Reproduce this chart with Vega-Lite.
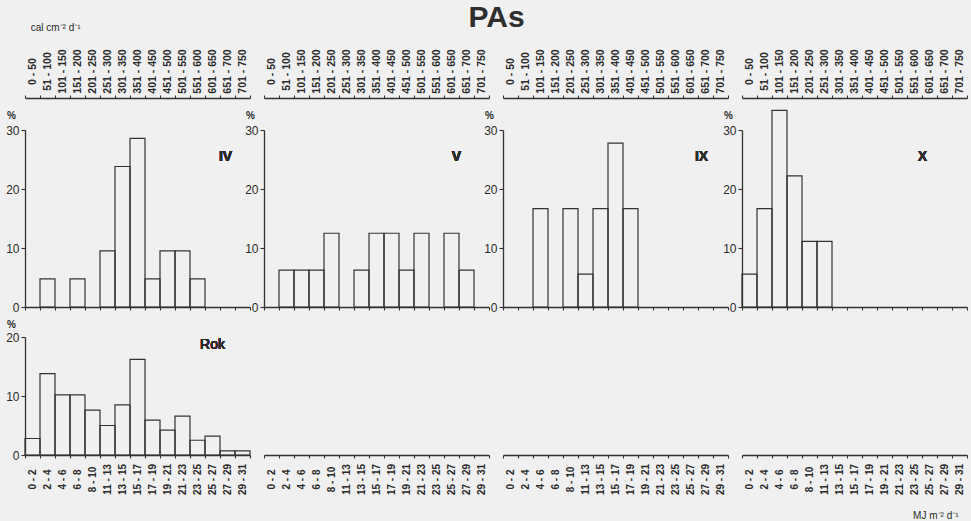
{
 "$schema": "https://vega.github.io/schema/vega-lite/v6.json",
 "background": "#f0f0f0",
 "padding": {"left": 5, "right": 4, "top": 2, "bottom": 6},
 "title": {"text": "PAs", "fontSize": 30, "font": "Liberation Sans", "fontWeight": "bold", "color": "#2e2e2e", "anchor": "middle", "offset": -10, "dx": 10},
 "config": {
  "view": {"stroke": null},
  "axis": {"grid": false, "labelFont": "Liberation Sans", "labelColor": "#2b2b2b", "domainColor": "#333333", "tickColor": "#333333", "domainWidth": 1.3, "tickWidth": 1.1, "titleFont": "Liberation Sans", "titleColor": "#2b2b2b"},
  "title": {"font": "Liberation Sans", "color": "#2b2b2b"},
  "text": {"font": "Liberation Sans", "color": "#2b2b2b"}
 },
 "datasets": {
  "iv": [
   {"bin": "51 - 100", "pct": 4.76}, {"bin": "151 - 200", "pct": 4.76}, {"bin": "251 - 300", "pct": 9.52},
   {"bin": "301 - 350", "pct": 23.81}, {"bin": "351 - 400", "pct": 28.57}, {"bin": "401 - 450", "pct": 4.76},
   {"bin": "451 - 500", "pct": 9.52}, {"bin": "501 - 550", "pct": 9.52}, {"bin": "551 - 600", "pct": 4.76}
  ],
  "v": [
   {"bin": "51 - 100", "pct": 6.25}, {"bin": "101 - 150", "pct": 6.25}, {"bin": "151 - 200", "pct": 6.25},
   {"bin": "201 - 250", "pct": 12.5}, {"bin": "301 - 350", "pct": 6.25}, {"bin": "351 - 400", "pct": 12.5},
   {"bin": "401 - 450", "pct": 12.5}, {"bin": "451 - 500", "pct": 6.25}, {"bin": "501 - 550", "pct": 12.5},
   {"bin": "601 - 650", "pct": 12.5}, {"bin": "651 - 700", "pct": 6.25}
  ],
  "ix": [
   {"bin": "101 - 150", "pct": 16.67}, {"bin": "201 - 250", "pct": 16.67}, {"bin": "251 - 300", "pct": 5.56},
   {"bin": "301 - 350", "pct": 16.67}, {"bin": "351 - 400", "pct": 27.78}, {"bin": "401 - 450", "pct": 16.67}
  ],
  "x": [
   {"bin": "0 - 50", "pct": 5.56}, {"bin": "51 - 100", "pct": 16.67}, {"bin": "101 - 150", "pct": 33.33},
   {"bin": "151 - 200", "pct": 22.22}, {"bin": "201 - 250", "pct": 11.11}, {"bin": "251 - 300", "pct": 11.11}
  ],
  "rok": [
   {"bin": "0 - 2", "pct": 2.8}, {"bin": "2 - 4", "pct": 13.8}, {"bin": "4 - 6", "pct": 10.2},
   {"bin": "6 - 8", "pct": 10.2}, {"bin": "8 - 10", "pct": 7.6}, {"bin": "11 - 13", "pct": 5.0},
   {"bin": "13 - 15", "pct": 8.5}, {"bin": "15 - 17", "pct": 16.2}, {"bin": "17 - 19", "pct": 5.9},
   {"bin": "19 - 21", "pct": 4.2}, {"bin": "21 - 23", "pct": 6.6}, {"bin": "23 - 25", "pct": 2.5},
   {"bin": "25 - 27", "pct": 3.2}, {"bin": "27 - 29", "pct": 0.7}, {"bin": "29 - 31", "pct": 0.7}
  ],
  "none": []
 },
 "columns": 4,
 "spacing": {"row": 30, "column": 14},
 "bounds": "flush",
 "concat": [
    {
     "width": 225, "height": 177,
     "data": {"name": "iv"},
     "title": {"text": "cal cm⁻² d⁻¹", "anchor": "start", "fontSize": 10, "fontWeight": "normal", "dx": 25, "offset": 16},
     "resolve": {"axis": {"x": "independent"}},
     "layer": [
      {"mark": {"type": "bar", "fillOpacity": 0, "stroke": "#333333", "strokeWidth": 1.2},
       "encoding": {
        "x": {"field": "bin", "type": "ordinal", "scale": {"domain": ["0 - 50","51 - 100","101 - 150","151 - 200","201 - 250","251 - 300","301 - 350","351 - 400","401 - 450","451 - 500","501 - 550","551 - 600","601 - 650","651 - 700","701 - 750"], "paddingInner": 0, "paddingOuter": 0},
         "axis": {"orient": "top", "offset": 32, "title": null, "labelAngle": -90, "labelAlign": "center", "labelBaseline": "middle", "labelPadding": 24, "tickSize": 3, "tickBand": "extent", "labelFontSize": 10.5, "labelFontWeight": "bold"}},
        "y": {"field": "pct", "type": "quantitative", "scale": {"domain": [0, 30]},
         "axis": {"values": [0,5,10,15,20,25,30], "labelExpr": "datum.value % 10 === 0 ? datum.label : ''", "tickSize": 4, "labelFontSize": 12, "labelPadding": 2, "title": "%", "titleAngle": 0, "titleX": -14, "titleY": -15, "titleFontSize": 10, "titleFontWeight": "bold", "titleAlign": "center", "titleBaseline": "middle"}}
       }},
      {"mark": {"type": "text", "fontSize": 14, "fontWeight": "bold", "baseline": "middle", "dx": -2},
       "encoding": {
        "x": {"datum": "651 - 700", "type": "ordinal", "axis": {"orient": "bottom", "title": null, "labels": false, "tickSize": 3, "tickBand": "extent"}},
        "y": {"datum": 25.5, "type": "quantitative"},
        "text": {"value": "IV"}
       }}
     ]
    },
    {
     "width": 225, "height": 177,
     "data": {"name": "v"},
     "resolve": {"axis": {"x": "independent"}},
     "layer": [
      {"mark": {"type": "bar", "fillOpacity": 0, "stroke": "#333333", "strokeWidth": 1.2},
       "encoding": {
        "x": {"field": "bin", "type": "ordinal", "scale": {"domain": ["0 - 50","51 - 100","101 - 150","151 - 200","201 - 250","251 - 300","301 - 350","351 - 400","401 - 450","451 - 500","501 - 550","551 - 600","601 - 650","651 - 700","701 - 750"], "paddingInner": 0, "paddingOuter": 0},
         "axis": {"orient": "top", "offset": 32, "title": null, "labelAngle": -90, "labelAlign": "center", "labelBaseline": "middle", "labelPadding": 24, "tickSize": 3, "tickBand": "extent", "labelFontSize": 10.5, "labelFontWeight": "bold"}},
        "y": {"field": "pct", "type": "quantitative", "scale": {"domain": [0, 30]},
         "axis": {"values": [0,5,10,15,20,25,30], "labelExpr": "datum.value % 10 === 0 ? datum.label : ''", "tickSize": 4, "labelFontSize": 12, "labelPadding": 2, "title": "%", "titleAngle": 0, "titleX": -14, "titleY": -15, "titleFontSize": 10, "titleFontWeight": "bold", "titleAlign": "center", "titleBaseline": "middle"}}
       }},
      {"mark": {"type": "text", "fontSize": 14, "fontWeight": "bold", "baseline": "middle", "dx": 5},
       "encoding": {
        "x": {"datum": "601 - 650", "type": "ordinal", "axis": {"orient": "bottom", "title": null, "labels": false, "tickSize": 3, "tickBand": "extent"}},
        "y": {"datum": 25.5, "type": "quantitative"},
        "text": {"value": "V"}
       }}
     ]
    },
    {
     "width": 225, "height": 177,
     "data": {"name": "ix"},
     "resolve": {"axis": {"x": "independent"}},
     "layer": [
      {"mark": {"type": "bar", "fillOpacity": 0, "stroke": "#333333", "strokeWidth": 1.2},
       "encoding": {
        "x": {"field": "bin", "type": "ordinal", "scale": {"domain": ["0 - 50","51 - 100","101 - 150","151 - 200","201 - 250","251 - 300","301 - 350","351 - 400","401 - 450","451 - 500","501 - 550","551 - 600","601 - 650","651 - 700","701 - 750"], "paddingInner": 0, "paddingOuter": 0},
         "axis": {"orient": "top", "offset": 32, "title": null, "labelAngle": -90, "labelAlign": "center", "labelBaseline": "middle", "labelPadding": 24, "tickSize": 3, "tickBand": "extent", "labelFontSize": 10.5, "labelFontWeight": "bold"}},
        "y": {"field": "pct", "type": "quantitative", "scale": {"domain": [0, 30]},
         "axis": {"values": [0,5,10,15,20,25,30], "labelExpr": "datum.value % 10 === 0 ? datum.label : ''", "tickSize": 4, "labelFontSize": 12, "labelPadding": 2, "title": "%", "titleAngle": 0, "titleX": -14, "titleY": -15, "titleFontSize": 10, "titleFontWeight": "bold", "titleAlign": "center", "titleBaseline": "middle"}}
       }},
      {"mark": {"type": "text", "fontSize": 14, "fontWeight": "bold", "baseline": "middle", "dx": -4},
       "encoding": {
        "x": {"datum": "651 - 700", "type": "ordinal", "axis": {"orient": "bottom", "title": null, "labels": false, "tickSize": 3, "tickBand": "extent"}},
        "y": {"datum": 25.5, "type": "quantitative"},
        "text": {"value": "IX"}
       }}
     ]
    },
    {
     "width": 225, "height": 177,
     "data": {"name": "x"},
     "resolve": {"axis": {"x": "independent"}},
     "layer": [
      {"mark": {"type": "bar", "fillOpacity": 0, "stroke": "#333333", "strokeWidth": 1.2},
       "encoding": {
        "x": {"field": "bin", "type": "ordinal", "scale": {"domain": ["0 - 50","51 - 100","101 - 150","151 - 200","201 - 250","251 - 300","301 - 350","351 - 400","401 - 450","451 - 500","501 - 550","551 - 600","601 - 650","651 - 700","701 - 750"], "paddingInner": 0, "paddingOuter": 0},
         "axis": {"orient": "top", "offset": 32, "title": null, "labelAngle": -90, "labelAlign": "center", "labelBaseline": "middle", "labelPadding": 24, "tickSize": 3, "tickBand": "extent", "labelFontSize": 10.5, "labelFontWeight": "bold"}},
        "y": {"field": "pct", "type": "quantitative", "scale": {"domain": [0, 30]},
         "axis": {"values": [0,5,10,15,20,25,30], "labelExpr": "datum.value % 10 === 0 ? datum.label : ''", "tickSize": 4, "labelFontSize": 12, "labelPadding": 2, "title": "%", "titleAngle": 0, "titleX": -14, "titleY": -15, "titleFontSize": 10, "titleFontWeight": "bold", "titleAlign": "center", "titleBaseline": "middle"}}
       }},
      {"mark": {"type": "text", "fontSize": 14, "fontWeight": "bold", "baseline": "middle", "dx": -7},
       "encoding": {
        "x": {"datum": "601 - 650", "type": "ordinal", "axis": {"orient": "bottom", "title": null, "labels": false, "tickSize": 3, "tickBand": "extent"}},
        "y": {"datum": 25.5, "type": "quantitative"},
        "text": {"value": "X"}
       }}
     ]
    },
    {
     "width": 225, "height": 118,
     "data": {"name": "rok"},
     "layer": [
      {"mark": {"type": "bar", "fillOpacity": 0, "stroke": "#333333", "strokeWidth": 1.2},
       "encoding": {
        "x": {"field": "bin", "type": "ordinal", "scale": {"domain": ["0 - 2","2 - 4","4 - 6","6 - 8","8 - 10","11 - 13","13 - 15","15 - 17","17 - 19","19 - 21","21 - 23","23 - 25","25 - 27","27 - 29","29 - 31"], "paddingInner": 0, "paddingOuter": 0},
         "axis": {"orient": "bottom", "title": null, "labelAngle": -90, "labelAlign": "center", "labelBaseline": "middle", "labelPadding": 21, "tickSize": 3, "tickBand": "extent", "labelFontSize": 10, "labelFontWeight": "bold"}},
        "y": {"field": "pct", "type": "quantitative", "scale": {"domain": [0, 20]},
         "axis": {"values": [0,5,10,15,20], "labelExpr": "datum.value % 10 === 0 ? datum.label : ''", "tickSize": 4, "labelFontSize": 12, "labelPadding": 2, "title": "%", "titleAngle": 0, "titleX": -14, "titleY": -13, "titleFontSize": 10, "titleFontWeight": "bold", "titleAlign": "center", "titleBaseline": "middle"}}
       }},
      {"mark": {"type": "text", "fontSize": 14, "fontWeight": "normal", "baseline": "middle"},
       "encoding": {
        "x": {"datum": "25 - 27", "type": "ordinal"},
        "y": {"datum": 18.6, "type": "quantitative"},
        "text": {"value": "Rok"}
       }}
     ]
    },
    {
     "width": 225, "height": 118,
     "data": {"name": "none"},
     "mark": {"type": "bar"},
     "encoding": {
      "x": {"field": "bin", "type": "ordinal", "scale": {"domain": ["0 - 2","2 - 4","4 - 6","6 - 8","8 - 10","11 - 13","13 - 15","15 - 17","17 - 19","19 - 21","21 - 23","23 - 25","25 - 27","27 - 29","29 - 31"], "paddingInner": 0, "paddingOuter": 0},
       "axis": {"orient": "bottom", "title": null, "labelAngle": -90, "labelAlign": "center", "labelBaseline": "middle", "labelPadding": 21, "tickSize": 3, "tickBand": "extent", "labelFontSize": 10, "labelFontWeight": "bold"}}
     }
    },
    {
     "width": 225, "height": 118,
     "data": {"name": "none"},
     "mark": {"type": "bar"},
     "encoding": {
      "x": {"field": "bin", "type": "ordinal", "scale": {"domain": ["0 - 2","2 - 4","4 - 6","6 - 8","8 - 10","11 - 13","13 - 15","15 - 17","17 - 19","19 - 21","21 - 23","23 - 25","25 - 27","27 - 29","29 - 31"], "paddingInner": 0, "paddingOuter": 0},
       "axis": {"orient": "bottom", "title": null, "labelAngle": -90, "labelAlign": "center", "labelBaseline": "middle", "labelPadding": 21, "tickSize": 3, "tickBand": "extent", "labelFontSize": 10, "labelFontWeight": "bold"}}
     }
    },
    {
     "width": 225, "height": 118,
     "data": {"name": "none"},
     "title": {"text": "MJ m⁻² d⁻¹", "orient": "bottom", "anchor": "end", "fontSize": 10, "fontWeight": "normal", "dx": -9, "offset": 16},
     "mark": {"type": "bar"},
     "encoding": {
      "x": {"field": "bin", "type": "ordinal", "scale": {"domain": ["0 - 2","2 - 4","4 - 6","6 - 8","8 - 10","11 - 13","13 - 15","15 - 17","17 - 19","19 - 21","21 - 23","23 - 25","25 - 27","27 - 29","29 - 31"], "paddingInner": 0, "paddingOuter": 0},
       "axis": {"orient": "bottom", "title": null, "labelAngle": -90, "labelAlign": "center", "labelBaseline": "middle", "labelPadding": 21, "tickSize": 3, "tickBand": "extent", "labelFontSize": 10, "labelFontWeight": "bold"}}
     }
    }
 ]
}
